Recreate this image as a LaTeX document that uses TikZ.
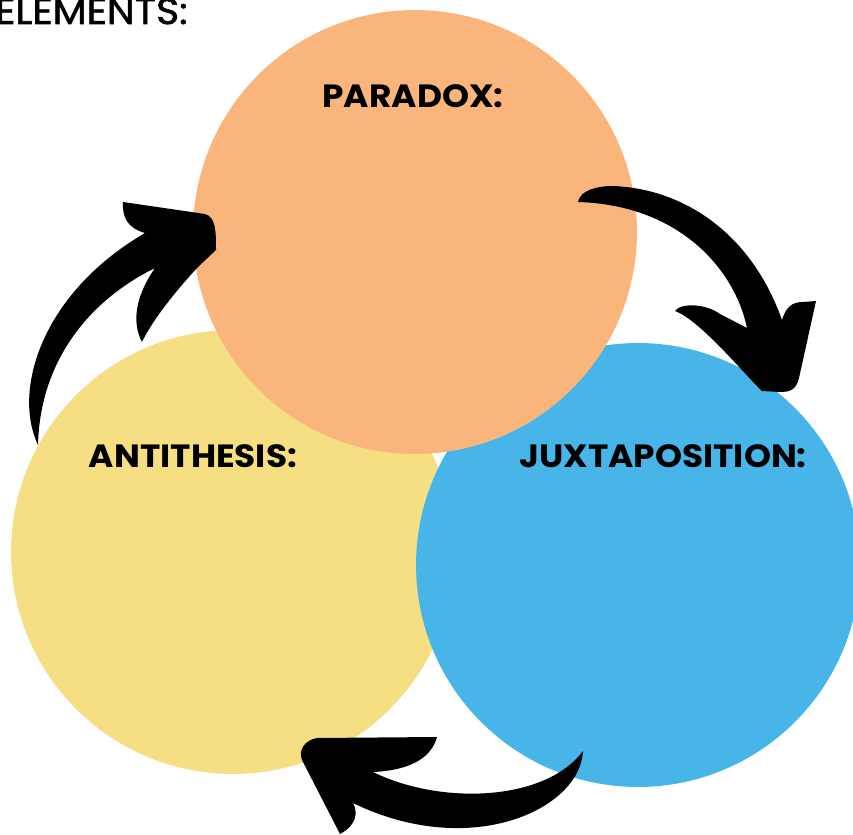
\documentclass[tikz,border=0pt]{standalone}
\usepackage{fontspec}
\setmainfont{Poppins}[FakeStretch=1.07]
\newfontfamily\titlefont{Poppins}[FakeStretch=1.07, FakeBold=1.6]
\usepackage{xcolor}
\usetikzlibrary{positioning}

\definecolor{paradoxorange}{HTML}{F9B57C}
\definecolor{antiyellow}{HTML}{F6DE82}
\definecolor{juxtablue}{HTML}{47B5E8}

\begin{document}
\begin{tikzpicture}[x=0.02cm, y=-0.02cm,
    bubble/.style={circle, inner sep=0, minimum size=8.88cm},
    heading/.style={inner sep=0, font=\bfseries\fontsize{18.3}{20}\selectfont},
    brush/.style={fill=black}]
            \useasboundingbox (0,0) rectangle (853,835);
            \clip (0,0) rectangle (853,835);
            % the three circles
            \node[bubble, fill=antiyellow] (anti) at (233,552) {};
            \node[bubble, fill=juxtablue] (juxta) at (638,565) {};
            \node[bubble, fill=paradoxorange] (para) at (415,232) {};
            % labels
            \node[inner sep=0, anchor=base east, font=\titlefont\fontsize{21}{24}\selectfont] (elements) at (188,24) {ELEMENTS:};
            \node[heading] (paralabel) at (413,96) {PARADOX:};
            \node[heading] (antilabel) at (193,456) {ANTITHESIS:};
            \node[heading] (juxtalabel) at (663,456) {JUXTAPOSITION:};
            % brush arrows
            \fill[brush] (38,445) .. controls (12,390) and (42,293) .. (145,233)
                .. controls (128,228) and (122,218) .. (123,202) -- (205,214)
                .. controls (216,217) and (216,232) .. (216,250) -- (198,267)
                .. controls (170,297) and (150,325) .. (142,342)
                .. controls (133,325) and (133,300) .. (155,268)
                .. controls (90,300) and (40,360) .. cycle;
            \fill[brush] (578,202) .. controls (580,190) and (598,186) .. (612,186)
                .. controls (680,188) and (750,230) .. (782,320)
                .. controls (786,307) and (792,302) .. (803,302) -- (816,301) -- (799,378)
                .. controls (796,390) and (790,392) .. (780,392) -- (762,391)
                .. controls (745,375) and (700,320) .. (675,311)
                .. controls (680,303) and (705,303) .. (720,314) -- (747,328)
                .. controls (735,270) and (680,205) .. cycle;
            \fill[brush] (583,751) .. controls (580,810) and (470,860) .. (353,803)
                .. controls (358,812) and (357,825) .. (340,834)
                -- (302,760) .. controls (298,750) and (305,740) .. (317,738) -- (437,737)
                .. controls (432,755) and (415,770) .. (373,772)
                .. controls (440,805) and (545,802) .. cycle;
\end{tikzpicture}
\end{document}
